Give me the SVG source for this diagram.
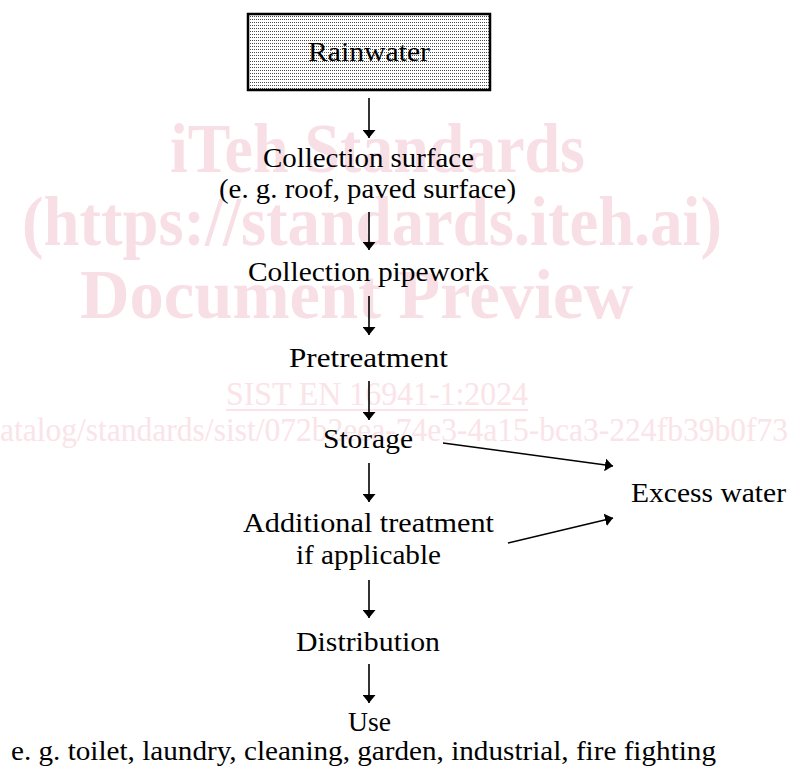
<svg xmlns="http://www.w3.org/2000/svg" width="788" height="769" viewBox="0 0 788 769">
  <defs>
    <pattern id="stipple" width="2" height="3" patternUnits="userSpaceOnUse">
      <rect width="2" height="3" fill="#ffffff"/>
      <rect x="0" y="1" width="1" height="1" fill="#4a4a4a"/>
    </pattern>
    <marker id="arrow" viewBox="0 0 10 10" refX="10" refY="5" markerWidth="8" markerHeight="13" markerUnits="userSpaceOnUse" orient="auto" preserveAspectRatio="none">
      <path d="M0,0 L10,5 L0,10 z" fill="#000"/>
    </marker>
    <style>
      .lbl { font-family: "Liberation Serif", "Times New Roman", serif; font-size: 28px; fill: #000; text-anchor: middle; }
      .wm { font-family: "Liberation Serif", "Times New Roman", serif; fill: #f8dfe5; }
      .wmb { font-weight: bold; font-size: 70px; }
      .wms { font-size: 34px; fill: #fae4e9; }
      .conn { stroke: #000; stroke-width: 1.6; fill: none; marker-end: url(#arrow); }
    </style>
  </defs>
  <rect width="788" height="769" fill="#ffffff"/>

  <g id="watermark">
    <text class="wm wmb" x="170" y="172" textLength="415" lengthAdjust="spacingAndGlyphs">iTeh Standards</text>
    <text class="wm wmb" x="22" y="245" textLength="700" lengthAdjust="spacingAndGlyphs">(https://standards.iteh.ai)</text>
    <text class="wm wmb" x="80" y="318" textLength="553" lengthAdjust="spacingAndGlyphs">Document Preview</text>
    <text class="wm wms" x="226" y="405" textLength="302" lengthAdjust="spacingAndGlyphs">SIST EN 16941-1:2024</text>
    <line x1="226" y1="410" x2="528" y2="410" stroke="#fae4e9" stroke-width="2"/>
    <text class="wm wms" x="0" y="441" textLength="788" lengthAdjust="spacingAndGlyphs">atalog/standards/sist/072b2eea-74e3-4a15-bca3-224fb39b0f73</text>
  </g>

  <g id="connectors">
    <line class="conn" x1="369" y1="98" x2="369" y2="138"/>
    <line class="conn" x1="369" y1="212" x2="369" y2="250"/>
    <line class="conn" x1="369" y1="296" x2="369" y2="335"/>
    <line class="conn" x1="369" y1="381" x2="369" y2="420"/>
    <line class="conn" x1="369" y1="463" x2="369" y2="502"/>
    <line class="conn" x1="369" y1="580" x2="369" y2="618"/>
    <line class="conn" x1="369" y1="664" x2="369" y2="703"/>
    <line class="conn" x1="443" y1="443" x2="613" y2="466"/>
    <line class="conn" x1="508" y1="543" x2="613" y2="518"/>
  </g>

  <g id="rainwater">
    <rect x="248" y="14" width="242" height="76" fill="url(#stipple)" stroke="#000" stroke-width="2.5"/>
    <text class="lbl" x="369" y="61" textLength="122" lengthAdjust="spacingAndGlyphs">Rainwater</text>
  </g>
  <g id="collection-surface">
    <text class="lbl" x="368.5" y="167" textLength="211" lengthAdjust="spacingAndGlyphs">Collection surface</text>
    <text class="lbl" x="367.5" y="198" textLength="297" lengthAdjust="spacingAndGlyphs">(e. g. roof, paved surface)</text>
  </g>
  <g id="collection-pipework">
    <text class="lbl" x="368.5" y="281" textLength="241" lengthAdjust="spacingAndGlyphs">Collection pipework</text>
  </g>
  <g id="pretreatment">
    <text class="lbl" x="368.5" y="367" textLength="159" lengthAdjust="spacingAndGlyphs">Pretreatment</text>
  </g>
  <g id="storage">
    <text class="lbl" x="368" y="448" textLength="90" lengthAdjust="spacingAndGlyphs">Storage</text>
  </g>
  <g id="additional-treatment">
    <text class="lbl" x="368.5" y="532" textLength="251" lengthAdjust="spacingAndGlyphs">Additional treatment</text>
    <text class="lbl" x="368.5" y="564" textLength="145" lengthAdjust="spacingAndGlyphs">if applicable</text>
  </g>
  <g id="excess-water">
    <text class="lbl" x="708.5" y="502" textLength="155" lengthAdjust="spacingAndGlyphs">Excess water</text>
  </g>
  <g id="distribution">
    <text class="lbl" x="368" y="651" textLength="144" lengthAdjust="spacingAndGlyphs">Distribution</text>
  </g>
  <g id="use">
    <text class="lbl" x="369.5" y="731" textLength="43" lengthAdjust="spacingAndGlyphs">Use</text>
    <text class="lbl" x="363.5" y="760" textLength="705" lengthAdjust="spacingAndGlyphs">e. g. toilet, laundry, cleaning, garden, industrial, fire fighting</text>
  </g>
</svg>
